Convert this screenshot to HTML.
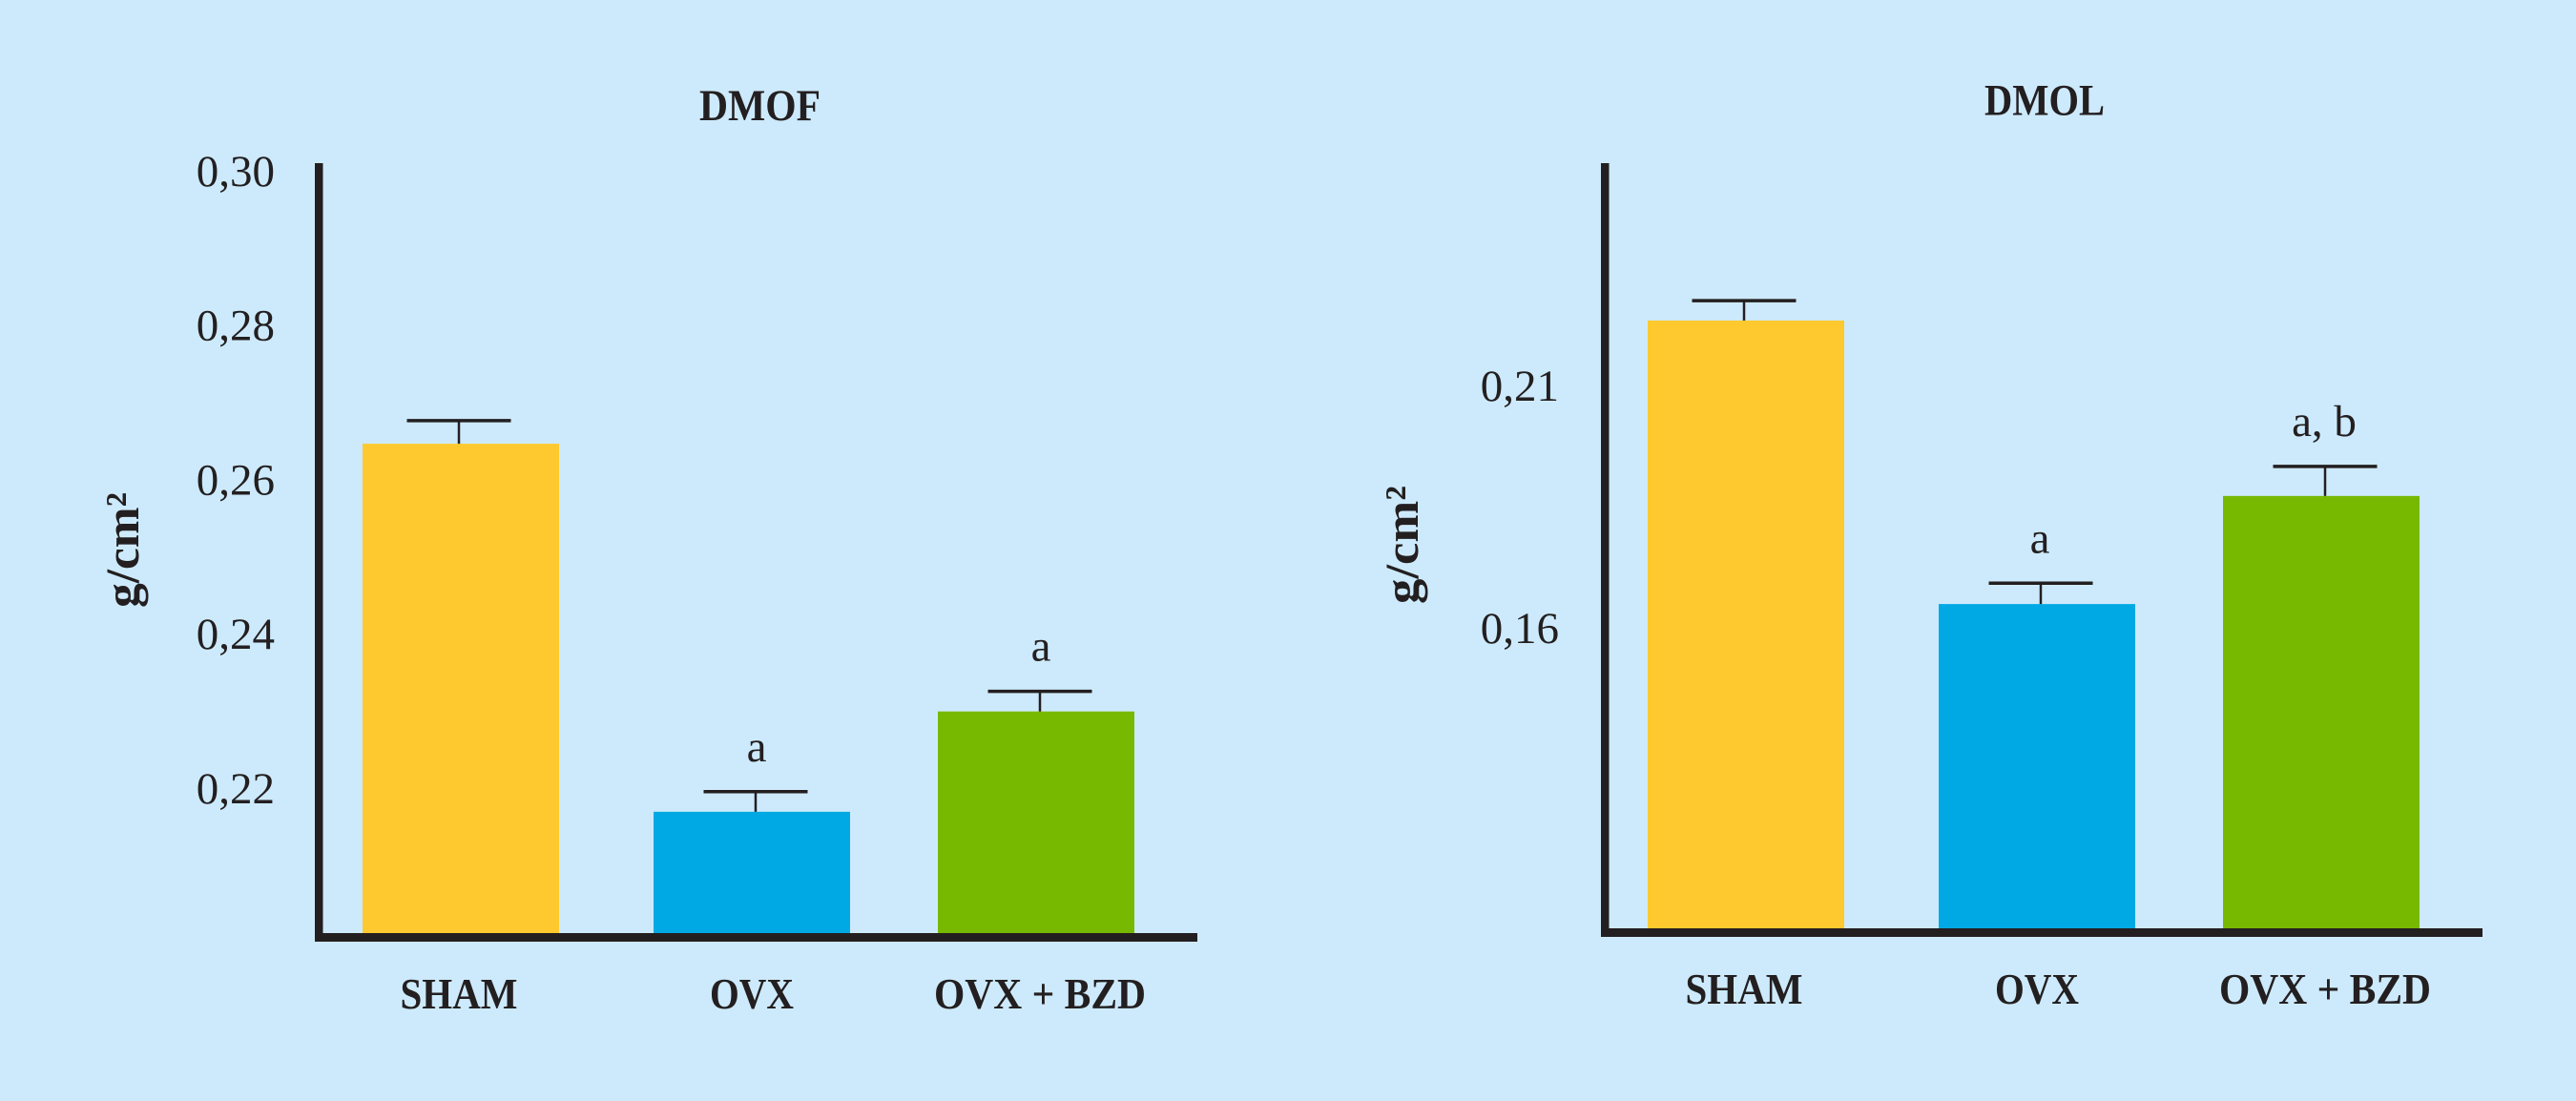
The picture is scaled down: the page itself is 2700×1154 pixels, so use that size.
<!DOCTYPE html>
<html lang="en">
<head>
<meta charset="utf-8">
<title>DMOF and DMOL bar charts</title>
<style>
  html, body { margin: 0; padding: 0; background: #cdeafc; }
  svg { display: block; }
  text { font-family: "Liberation Serif", serif; fill: #231f20; }
  .bold { font-weight: bold; }
</style>
</head>
<body>
<svg id="figure" width="2700" height="1154" viewBox="0 0 2700 1154" xmlns="http://www.w3.org/2000/svg">
  <rect x="0" y="0" width="2700" height="1154" fill="#cdeafc"/>
  <g id="chart-dmof">
    <text class="bold" x="796.5" y="126" font-size="47" text-anchor="middle" textLength="127" lengthAdjust="spacingAndGlyphs">DMOF</text>
    <text class="bold" transform="translate(145 637) rotate(-90)" x="0" y="0" font-size="50" textLength="121" lengthAdjust="spacingAndGlyphs">g/cm²</text>
  </g>
  <g id="chart-dmol">
    <text class="bold" x="2143" y="120.5" font-size="47" text-anchor="middle" textLength="126" lengthAdjust="spacingAndGlyphs">DMOL</text>
    <text class="bold" transform="translate(1486 633) rotate(-90)" x="0" y="0" font-size="50" textLength="124" lengthAdjust="spacingAndGlyphs">g/cm²</text>
  </g>
</svg>
<script>
// Chart data
const categories = ['SHAM', 'OVX', 'OVX + BZD'];
const barColors = ['#fdc92f', '#00a9e3', '#76b900'];

const dmofValues = [0.2645, 0.2168, 0.2298];
const dmofErrors = [0.0030, 0.0026, 0.0026];
const dmofTicks = [0.30, 0.28, 0.26, 0.24, 0.22];
const dmofTickLabels = ['0,30', '0,28', '0,26', '0,24', '0,22'];
const dmofAnnotations = ['', 'a', 'a'];

const dmolValues = [0.2232, 0.1647, 0.1870];
const dmolErrors = [0.0041, 0.0043, 0.0061];
const dmolTicks = [0.21, 0.16];
const dmolTickLabels = ['0,21', '0,16'];
const dmolAnnotations = ['', 'a', 'a, b'];

const categoryLabelWidths = [123, 88, 222];
const SVG_NS = 'http://www.w3.org/2000/svg';

function mk(parent, tag, attrs) {
  const el = document.createElementNS(SVG_NS, tag);
  for (const k in attrs) el.setAttribute(k, attrs[k]);
  parent.appendChild(el);
  return el;
}

function drawChart(opts) {
  const g = document.getElementById(opts.groupId);
  const prefix = opts.prefix;
  // value axis: pixels from a reference value and a px-per-unit scale
  const yScale = v => opts.yRefPx + (opts.yRefValue - v) * opts.pxPerUnit;
  // category axis: band position with the small offset of the central bar
  const xBand = i => opts.firstBarX + i * 302 + (i === 1 ? 3 : 0) - (i === 2 ? 1 : 0);
  const barWidth = 206;
  const errNudge = i => (i === 0 ? -2 : 4);
  const labelNudge = i => (i === 0 ? -2 : i === 1 ? 0 : 4);

  opts.ticks.forEach((t, i) => {
    const label = mk(g, 'text', {
      x: opts.axisX - opts.tickGap,
      y: yScale(t) + 17,
      'font-size': 47,
      'text-anchor': 'end'
    });
    
    
    label.textContent = opts.tickLabels[i];
  });

  categories.forEach((cat, i) => {
    const key = cat.toLowerCase().replace(/[^a-z]+/g, '-');
    const top = yScale(opts.values[i]);
    const bar = mk(g, 'rect', {
      x: xBand(i),
      y: top,
      width: barWidth,
      height: opts.baselineY - top,
      fill: barColors[i]
    });
    
    

    const cx = xBand(i) + barWidth / 2 + errNudge(i);
    const capY = yScale(opts.values[i] + opts.errors[i]);
    const stem = mk(g, 'line', {
      x1: cx, x2: cx, y1: capY, y2: top,
      stroke: '#231f20', 'stroke-width': 2.5
    });
    
    

    const cap = mk(g, 'line', {
      x1: cx - 54.5, x2: cx + 54.5, y1: capY, y2: capY,
      stroke: '#231f20', 'stroke-width': 3.5
    });
    
    

    if (opts.annotations[i]) {
      const note = mk(g, 'text', {
        x: cx + opts.noteNudge,
        y: capY - 32,
        'font-size': 47,
        'text-anchor': 'middle'
      });
      
      
      note.textContent = opts.annotations[i];
    }

    const catLabel = mk(g, 'text', {
      class: 'bold',
      x: xBand(i) + barWidth / 2 + labelNudge(i),
      y: opts.baselineY + opts.labelDrop,
      'font-size': 46,
      'text-anchor': 'middle',
      textLength: categoryLabelWidths[i],
      lengthAdjust: 'spacingAndGlyphs'
    });
    
    
    catLabel.textContent = cat;
  });

  const yAxis = mk(g, 'rect', {
    x: opts.axisX,
    y: 171,
    width: 8.5,
    height: opts.baselineY + 9 - 171,
    fill: '#231f20'
  });
  
  

  const xAxis = mk(g, 'rect', {
    x: opts.axisX,
    y: opts.baselineY,
    width: opts.axisRight - opts.axisX,
    height: 9,
    fill: '#231f20'
  });
  
  
}

drawChart({
  groupId: 'chart-dmof', prefix: 'dmof',
  values: dmofValues, errors: dmofErrors,
  ticks: dmofTicks, tickLabels: dmofTickLabels, annotations: dmofAnnotations,
  yRefValue: 0.30, yRefPx: 178, pxPerUnit: 8087,
  axisX: 330, axisRight: 1255, baselineY: 978,
  firstBarX: 380, tickGap: 42, labelDrop: 79, noteNudge: 1
});

drawChart({
  groupId: 'chart-dmol', prefix: 'dmol',
  values: dmolValues, errors: dmolErrors,
  ticks: dmolTicks, tickLabels: dmolTickLabels, annotations: dmolAnnotations,
  yRefValue: 0.21, yRefPx: 403, pxPerUnit: 5080,
  axisX: 1678, axisRight: 2602, baselineY: 973,
  firstBarX: 1727, tickGap: 44, labelDrop: 79, noteNudge: -1
});
</script>
</body>
</html>
